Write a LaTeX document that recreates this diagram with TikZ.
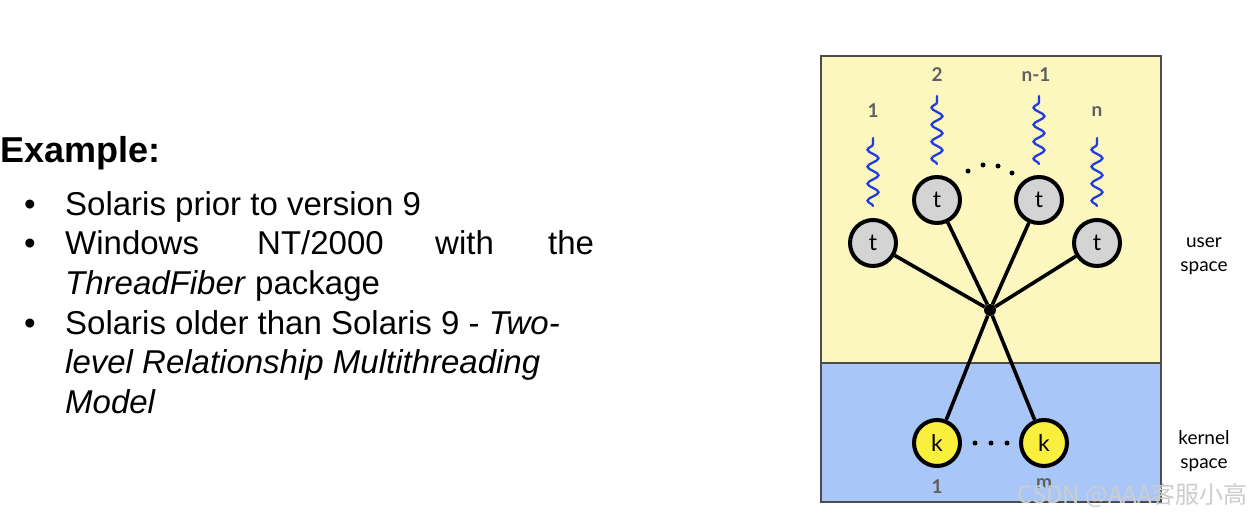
\documentclass[tikz,border=0pt]{standalone}
\usepackage{fontspec}
\setmainfont{Liberation Sans}
\newfontfamily\diagfont{Lato}
\newfontfamily\cjkfont{Noto Sans CJK SC}
\usetikzlibrary{decorations.pathmorphing}
\definecolor{userbg}{RGB}{252,247,190}
\definecolor{kernbg}{RGB}{168,198,248}
\definecolor{tfill}{RGB}{212,212,212}
\definecolor{kfill}{RGB}{248,240,60}
\definecolor{wave}{RGB}{35,60,225}
\definecolor{lblgray}{RGB}{95,95,95}
\definecolor{wmgray}{RGB}{205,205,205}
\tikzset{
  tnode/.style={circle, draw=black, line width=4pt, fill=tfill, minimum size=46pt, inner sep=0pt, font=\diagfont\fontsize{23}{23}\selectfont},
  knode/.style={circle, draw=black, line width=4pt, fill=kfill, minimum size=46pt, inner sep=0pt, font=\diagfont\fontsize{23}{23}\selectfont},
  link/.style={line width=3.6pt, black},
  wavy/.style={wave, line width=2.3pt, line cap=round, decorate, decoration={snake, segment length=17pt, amplitude=5.5pt}},
  numlbl/.style={text=lblgray, font=\diagfont\bfseries\fontsize{19}{19}\selectfont, inner sep=0pt},
  sidelbl/.style={align=center, font=\diagfont\fontsize{19}{24}\selectfont, inner sep=0pt},
  dotmark/.style={circle, fill=black, inner sep=0pt, minimum size=5pt},
  bodytxt/.style={anchor=base west, inner sep=0pt, font=\fontsize{33}{40}\selectfont},
}
\begin{document}
\begin{tikzpicture}[x=1pt, y=-1pt]
\useasboundingbox (0,0) rectangle (1252,516);
\fill[white] (0,0) rectangle (1252,516);
% background panels
\fill[userbg] (821,56) rectangle (1161,363);
\fill[kernbg] (821,363) rectangle (1161,502);
\draw[black!70, line width=1.5pt] (821,56) rectangle (1161,502);
\draw[black!70, line width=1.5pt] (821,363) -- (1161,363);
% junction
\node[circle, fill=black, inner sep=0pt, minimum size=12pt] (J) at (990,310) {};
% thread nodes
\node[tnode] (t1) at (873,243) {t};
\node[tnode] (t2) at (937,200) {t};
\node[tnode] (t3) at (1039,200) {t};
\node[tnode] (t4) at (1097,243) {t};
% kernel nodes
\node[knode] (k1) at (937,443) {k};
\node[knode] (k2) at (1044,443) {k};
% links
\draw[link] (t1) -- (J);
\draw[link] (t2) -- (J);
\draw[link] (t3) -- (J);
\draw[link] (t4) -- (J);
\draw[link] (J) -- (k1);
\draw[link] (J) -- (k2);
% wavy thread lines
\coordinate (w1a) at (873,206); \coordinate (w1b) at (873,138);
\coordinate (w2a) at (937,164); \coordinate (w2b) at (937,96);
\coordinate (w3a) at (1039,164); \coordinate (w3b) at (1039,96);
\coordinate (w4a) at (1097,206); \coordinate (w4b) at (1097,138);
\draw[wavy] (w1a) -- (w1b);
\draw[wavy] (w2a) -- (w2b);
\draw[wavy] (w3a) -- (w3b);
\draw[wavy] (w4a) -- (w4b);
% number labels
\node[numlbl] (n1) at (873,111) {1};
\node[numlbl] (n2) at (937,75) {2};
\node[numlbl] (n3) at (1036,75) {n-1};
\node[numlbl] (n4) at (1097,112) {n};
\node[numlbl] (m1) at (937,487) {1};
\node[numlbl] (m2) at (1044,484) {m};
% dots
\node[dotmark] (d1) at (968,171) {};
\node[dotmark] (d2) at (983,165) {};
\node[dotmark] (d3) at (998,166) {};
\node[dotmark] (d4) at (1012,173) {};
\node[dotmark] (e1) at (975,443) {};
\node[dotmark] (e2) at (991,443) {};
\node[dotmark] (e3) at (1007,443) {};
% side labels
\node[sidelbl] (us) at (1204,256) {user\\space};
\node[sidelbl] (ks) at (1204,451) {kernel\\space};
% left text
\node[anchor=base west, inner sep=0pt, font=\bfseries\fontsize{36}{42}\selectfont] (ex) at (0,162) {Example:};
\node[bodytxt] (b1) at (24,215) {\textbullet};
\node[bodytxt] (b2) at (24,254) {\textbullet};
\node[bodytxt] (b3) at (24,334) {\textbullet};
\node[bodytxt] (l1) at (65,215) {Solaris prior to version 9};
\node[bodytxt] (l2a) at (65,254) {Windows};
\node[bodytxt] (l2b) at (257,254) {NT/2000};
\node[bodytxt] (l2c) at (435,254) {with};
\node[bodytxt] (l2d) at (548,254) {the};
\node[bodytxt] (l3) at (65,294) {\textit{ThreadFiber} package};
\node[bodytxt] (l4) at (65,334) {Solaris older than Solaris 9 - \textit{Two-}};
\node[bodytxt] (l5) at (65,373) {\textit{level Relationship Multithreading}};
\node[bodytxt] (l6) at (65,413) {\textit{Model}};
% watermark
\node[anchor=base east, inner sep=0pt, text=wmgray, font=\cjkfont\fontsize{24}{24}\selectfont] (wm) at (1248,503) {CSDN @AAA客服小高};
\end{tikzpicture}
\end{document}
